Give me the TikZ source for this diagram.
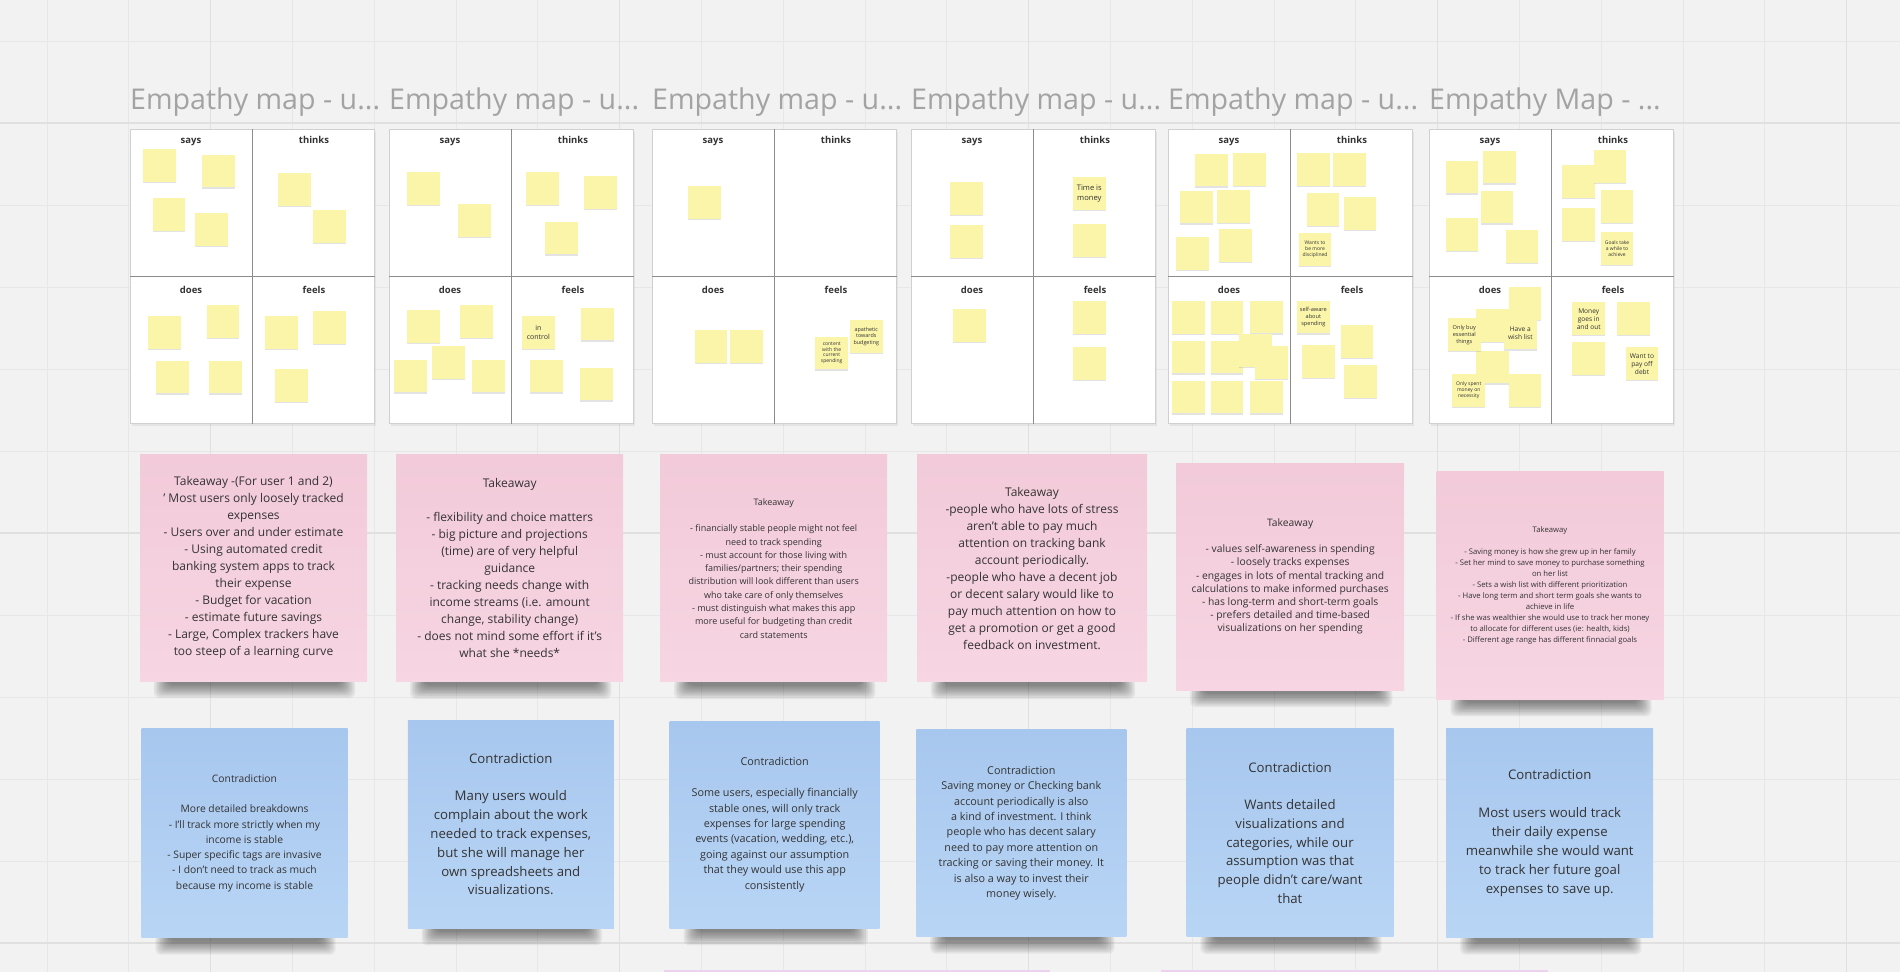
\documentclass[tikz,border=0pt]{standalone}
\usepackage{fontspec}
\setmainfont{Open Sans}
\usetikzlibrary{shadows}

\definecolor{boardbg}{HTML}{F2F2F2}
\definecolor{gridminor}{HTML}{E7E7E7}
\definecolor{gridmajor}{HTML}{E0E0E0}
\definecolor{titlegray}{HTML}{A3A3A3}
\definecolor{inkgray}{HTML}{333333}
\definecolor{framegray}{HTML}{D0D0D0}
\definecolor{dividergray}{HTML}{8C8C8C}
\definecolor{stickyyellow}{HTML}{FBF5A9}
\definecolor{pinktop}{HTML}{F2CAD9}
\definecolor{pinkbottom}{HTML}{F7D5E2}
\definecolor{bluetop}{HTML}{A8C7EE}
\definecolor{bluebottom}{HTML}{B8D5F5}
\definecolor{stripe}{HTML}{EDD2EF}

\pgfdeclarelayer{board}
\pgfdeclarelayer{shade}
\pgfsetlayers{board,shade,main}

\tikzset{
  gridline/.style={gridminor, line width=1pt},
  gridbold/.style={gridmajor, line width=1.4pt},
  maptitle/.style={anchor=base west, inner sep=0pt, text=titlegray,
    font=\fontsize{28.6}{30}\selectfont},
  mapframe/.style={draw=framegray, fill=white, line width=1pt, anchor=north west,
    minimum width=244pt, minimum height=294pt, inner sep=0pt,
    drop shadow={opacity=.12, shadow xshift=1pt, shadow yshift=-2pt}},
  divider/.style={dividergray, line width=1pt},
  quadlabel/.style={anchor=base, inner sep=0pt, text=inkgray,
    font=\bfseries\fontsize{9.5}{11}\selectfont},
  sticky/.style={fill=stickyyellow, minimum size=32.5pt, inner sep=0pt, align=center,
    text=inkgray, font=\fontsize{5}{5.8}\selectfont,
    drop shadow={opacity=.22, shadow xshift=0pt, shadow yshift=-1.5pt}},
  takeaway/.style={top color=pinktop, bottom color=pinkbottom, minimum width=227pt,
    minimum height=227pt, inner sep=0pt, align=center, text=inkgray},
  contra/.style={top color=bluetop, bottom color=bluebottom, minimum width=206pt,
    minimum height=208pt, inner sep=0pt, align=center, text=inkgray},
  notesh/.style={black, opacity=.055, rounded corners=6pt}
}

\begin{document}
\begin{tikzpicture}[x=1pt, y=-1pt]
  \useasboundingbox (0,0) rectangle (1900,972);

  % board and grid
  \begin{pgfonlayer}{board}
    \fill[boardbg] (0,0) rectangle (1900,972);
    \foreach \k in {0,...,22}
      \draw[gridline] ({47+81.8*\k},0) -- ({47+81.8*\k},972);
    \foreach \k in {0,...,11}
      \draw[gridline] (0,{41+82*\k}) -- (1900,{41+82*\k});
    \foreach \k in {2,7,12,17,22}
      \draw[gridbold] ({47+81.8*\k},0) -- ({47+81.8*\k},972);
    \foreach \k in {1,6,11}
      \draw[gridbold] (0,{41+82*\k}) -- (1900,{41+82*\k});
    \fill[stripe] (664,970) rectangle (1050,972);
    \fill[stripe] (1161,970) rectangle (1548,972);
  \end{pgfonlayer}

  % empathy maps
  \foreach \m/\mx/\mtitle in {1/130/{Empathy map - u...}, 2/389/{Empathy map - u...},
      3/652/{Empathy map - u...}, 4/911/{Empathy map - u...},
      5/1168/{Empathy map - u...}, 6/1429/{Empathy Map - ...}} {
    \node[mapframe] (map\m) at (\mx,129) {};
    \draw[divider] (map\m.north) -- (map\m.south);
    \draw[divider] (map\m.west) -- (map\m.east);
    \node[maptitle] (title\m) at ([yshift=20pt]map\m.north west) {\mtitle};
    \node[quadlabel] (says\m) at ([xshift=61pt,yshift=-14.3pt]map\m.north west) {says};
    \node[quadlabel] (thinks\m) at ([xshift=-61pt,yshift=-14.3pt]map\m.north east) {thinks};
    \node[quadlabel] (does\m) at ([xshift=61pt,yshift=-16.5pt]map\m.west) {does};
    \node[quadlabel] (feels\m) at ([xshift=-61pt,yshift=-16.5pt]map\m.east) {feels};
  }

  % sticky notes
  \foreach \x/\y [count=\k] in {159.7/165.7, 218.7/171, 169/214.7, 211.3/229.3,
      294.3/189.3, 329.7/226.3, 164.3/332.3, 223/321.3, 172.3/377, 225.3/377,
      281.3/332.3, 329.7/327.7, 291.7/385.3}
    \node[sticky] (ma\k) at (\x,\y) {};
  \foreach \x/\y [count=\k] in {423.3/188.3, 474.3/220.3, 542.3/188.3, 600.3/192.3,
      561.3/238, 423.3/326.3, 476.3/321.3, 410.3/376, 488.7/376, 448.3/362.3,
      597.7/324, 546.3/376, 596.3/384}
    \node[sticky] (mb\k) at (\x,\y) {};
  \node[sticky, font=\fontsize{7}{8.5}\selectfont] (mbcontrol) at (538.3,332.3) {in\\control};

  \foreach \x/\y [count=\k] in {704.7/202.3, 711/346.7, 746.3/346.7}
    \node[sticky] (mc\k) at (\x,\y) {};
  \node[sticky] (mccontent) at (831.7,353) {content\\with the\\current\\spending};
  \node[sticky, font=\fontsize{5.4}{6.6}\selectfont] (mcapathy) at (866.3,336.3) {apathetic\\towards\\budgeting};

  \foreach \x/\y [count=\k] in {966.3/198.3, 966.3/241.3, 1089.3/240.3, 969.3/325.3,
      1089.3/317.3, 1089.3/363.7}
    \node[sticky] (md\k) at (\x,\y) {};
  \node[sticky, font=\fontsize{7.6}{10}\selectfont] (mdtime) at (1089.3,193.7) {Time is\\money};

  \foreach \x/\y [count=\k] in {1211.7/170, 1249.3/169.3, 1196.3/207, 1233.7/206.3,
      1192.3/253.7, 1235.3/245.7, 1313.3/169.3, 1349.3/169.3, 1323/209.3, 1360/213.3,
      1188.3/317.3, 1227/317.3, 1266.3/317, 1188.3/357, 1227/357, 1255.3/350.3,
      1271.3/362.3, 1188.3/397, 1227/397, 1266.3/397, 1357/341.7, 1318.3/361.3,
      1360.3/381.3}
    \node[sticky] (me\k) at (\x,\y) {};
  \node[sticky] (medisc) at (1315,249.3) {Wants to\\be more\\disciplined};
  \node[sticky, font=\fontsize{5.6}{7}\selectfont] (meaware) at (1313.3,317) {self-aware\\about\\spending};

  \foreach \x/\y [count=\k] in {1462/177, 1499.3/167, 1497/207, 1462/234.7, 1522/246.3,
      1578.7/181.7, 1610/166.3, 1617/206.3, 1578.7/224.3, 1525/303.7, 1492.3/325.3,
      1492.7/367, 1525/390.3, 1633.3/318.7, 1588.7/358.7}
    \node[sticky] (mf\k) at (\x,\y) {};
  \node[sticky] (mfgoals) at (1617,248.7) {Goals take\\a while to\\achieve};
  \node[sticky, font=\fontsize{5.6}{7}\selectfont] (mfbuy) at (1464.3,334.7) {Only buy\\essential\\things};
  \node[sticky, font=\fontsize{6.6}{8.5}\selectfont] (mfwish) at (1520.3,333) {Have a\\wish list};
  \node[sticky] (mfspent) at (1468.7,390.3) {Only spent\\money on\\necessity};
  \node[sticky, font=\fontsize{6.6}{8}\selectfont] (mfmoney) at (1588.7,318.7) {Money\\goes in\\and out};
  \node[sticky, font=\fontsize{6.6}{8}\selectfont] (mfdebt) at (1642,363.7) {Want to\\pay off\\debt};

  % takeaways
  \node[takeaway, font=\fontsize{12}{17}\selectfont] (take1) at (253.5,567.5)
    {Takeaway -(For user 1 and 2)\\’ Most users only loosely tracked\\expenses\\- Users over and under estimate\\- Using automated credit\\banking system apps to track\\their expense\\- Budget for vacation\\- estimate future savings\\- Large, Complex trackers have\\too steep of a learning curve};
  \node[takeaway, font=\fontsize{12}{17}\selectfont] (take2) at (509.7,568.2)
    {Takeaway\\[17pt]- flexibility and choice matters\\- big picture and projections\\(time) are of very helpful\\guidance\\- tracking needs change with\\income streams (i.e. amount\\change, stability change)\\- does not mind some effort if it's\\what she *needs*};
  \node[takeaway, font=\fontsize{9}{13.3}\selectfont] (take3) at (773.7,568.3)
    {Takeaway\\[13.3pt]- financially stable people might not feel\\need to track spending\\- must account for those living with\\families/partners; their spending\\distribution will look different than users\\who take care of only themselves\\- must distinguish what makes this app\\more useful for budgeting than credit\\card statements};
  \node[takeaway, minimum width=230pt, font=\fontsize{12}{17}\selectfont] (take4) at (1032,568.3)
    {Takeaway\\-people who have lots of stress\\aren't able to pay much\\attention on tracking bank\\account periodically.\\-people who have a decent job\\or decent salary would like to\\pay much attention on how to\\get a promotion or get a good\\feedback on investment.};
  \node[takeaway, minimum width=228pt, font=\fontsize{10.3}{13.2}\selectfont] (take5) at (1290.2,576.5)
    {Takeaway\\[13.2pt]- values self-awareness in spending\\- loosely tracks expenses\\- engages in lots of mental tracking and\\calculations to make informed purchases\\- has long-term and short-term goals\\- prefers detailed and time-based\\visualizations on her spending};
  \node[takeaway, minimum height=228pt, font=\fontsize{7.7}{11}\selectfont] (take6) at (1550,585.2)
    {Takeaway\\[11pt]- Saving money is how she grew up in her family\\- Set her mind to save money to purchase something\\on her list\\- Sets a wish list with different prioritization\\- Have long term and short term goals she wants to\\achieve in life\\- If she was wealthier she would use to track her money\\to allocate for different uses (ie: health, kids)\\- Different age range has different finnacial goals};

  % contradictions
  \node[contra, minimum height=209pt, font=\fontsize{10.3}{15.3}\selectfont] (contra1) at (244.5,833)
    {Contradiction\\[15.3pt]More detailed breakdowns\\- I’ll track more strictly when my\\income is stable\\- Super specific tags are invasive\\- I don’t need to track as much\\because my income is stable};
  \node[contra, font=\fontsize{13.2}{18.8}\selectfont] (contra2) at (510.8,824.2)
    {Contradiction\\[18.8pt]Many users would\\complain about the work\\needed to track expenses,\\but she will manage her\\own spreadsheets and\\visualizations.};
  \node[contra, minimum width=210pt, minimum height=207pt, font=\fontsize{10.8}{15.4}\selectfont] (contra3) at (774.7,824.7)
    {Contradiction\\[15.4pt]Some users, especially financially\\stable ones, will only track\\expenses for large spending\\events (vacation, wedding, etc.),\\going against our assumption\\that they would use this app\\consistently};
  \node[contra, minimum width=210pt, minimum height=207pt, font=\fontsize{10.8}{15.4}\selectfont] (contra4) at (1021.3,833)
    {Contradiction\\Saving money or Checking bank\\account periodically is also\\a kind of investment. I think\\people who has decent salary\\need to pay more attention on\\tracking or saving their money. It\\is also a way to invest their\\money wisely.};
  \node[contra, minimum width=207pt, font=\fontsize{13.2}{18.7}\selectfont] (contra5) at (1290,832.9)
    {Contradiction\\[18.7pt]Wants detailed\\visualizations and\\categories, while our\\assumption was that\\people didn't care/want\\that};
  \node[contra, minimum width=207pt, minimum height=209pt, font=\fontsize{13.2}{18.9}\selectfont] (contra6) at (1549.7,833)
    {Contradiction\\[18.9pt]Most users would track\\their daily expense\\meanwhile she would want\\to track her future goal\\expenses to save up.};

  % soft shadows under the big notes
  \begin{pgfonlayer}{shade}
    \foreach \n in {take1,take2,take3,take4,take5,take6,contra1,contra2,contra3,contra4,contra5,contra6}
      \foreach \k in {0,...,9}
        \fill[notesh] ([xshift={14+1.6*\k}, yshift=3]\n.south west)
          rectangle ([xshift={-12-1.6*\k}, yshift={-17+1.5*\k}]\n.south east);
  \end{pgfonlayer}
\end{tikzpicture}
\end{document}
